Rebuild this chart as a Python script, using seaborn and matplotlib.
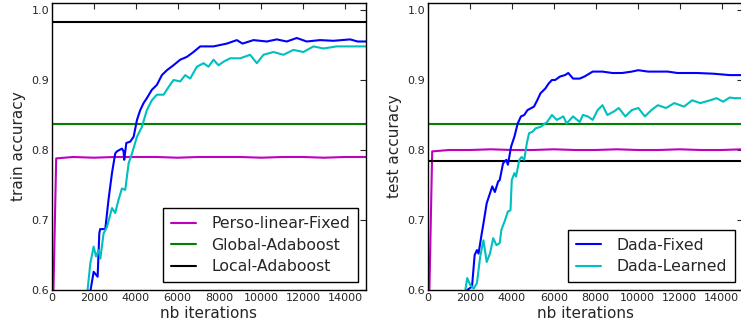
import pandas as pd
import matplotlib.pyplot as plt
import seaborn as sns

# ---- datos ----
iters_perso = [0, 200, 1000, 2000, 3000, 4000, 5000, 6000, 7000, 8000, 9000,
               10000, 11000, 12000, 13000, 14000, 15000]
perso_train = [0.50, 0.788, 0.790, 0.789, 0.790, 0.790, 0.790, 0.789, 0.790, 0.790,
               0.790, 0.789, 0.790, 0.790, 0.789, 0.790, 0.790]
perso_test = [0.50, 0.798, 0.800, 0.800, 0.801, 0.800, 0.800, 0.801, 0.800, 0.800,
              0.801, 0.800, 0.800, 0.801, 0.800, 0.800, 0.801]

global_train = 0.837
local_train = 0.983
global_test = 0.837
local_test = 0.785

iters_fixed_train = [1000, 1989, 2180, 2260, 2300, 2545, 2700, 2865, 3020, 3100, 3340,
                     3420, 3450, 3550, 3740, 3900, 4060, 4215, 4375, 4530, 4770, 5010,
                     5250, 5490, 5800, 6125, 6440, 6760, 7080, 7715, 8350, 8830, 9100,
                     9625, 10260, 10740, 11215, 11690, 12170, 12800, 13440, 14240, 14600,
                     15000]
fixed_train = [0.45, 0.626, 0.619, 0.681, 0.687, 0.687, 0.729, 0.767, 0.795, 0.798, 0.802,
               0.798, 0.786, 0.810, 0.812, 0.819, 0.843, 0.857, 0.867, 0.874, 0.886, 0.893,
               0.907, 0.914, 0.921, 0.929, 0.933, 0.940, 0.948, 0.948, 0.952, 0.957, 0.952,
               0.957, 0.955, 0.958, 0.955, 0.960, 0.955, 0.957, 0.956, 0.958, 0.955,
               0.955]

iters_learned_train = [1000, 1700, 1830, 1990, 2100, 2230, 2310, 2465, 2625, 2865, 3020,
                       3180, 3340, 3500, 3660, 3820, 4060, 4295, 4530, 4770, 5010, 5330,
                       5570, 5805, 6125, 6365, 6600, 6920, 7240, 7475, 7715, 7955, 8190,
                       8510, 8990, 9465, 9785, 10100, 10580, 11055, 11530, 12010, 12490,
                       12965, 13600, 14240, 15000]
learned_train = [0.45, 0.600, 0.638, 0.662, 0.648, 0.657, 0.645, 0.681, 0.690, 0.717, 0.710,
                 0.729, 0.745, 0.743, 0.781, 0.795, 0.819, 0.833, 0.857, 0.871, 0.879, 0.879,
                 0.890, 0.900, 0.898, 0.907, 0.902, 0.919, 0.924, 0.919, 0.929, 0.921, 0.926,
                 0.931, 0.931, 0.936, 0.924, 0.936, 0.940, 0.936, 0.943, 0.940, 0.948,
                 0.945, 0.948, 0.948, 0.948]

iters_fixed_test = [1000, 1870, 2100, 2225, 2335, 2410, 2565, 2645, 2800, 2955, 3065, 3190,
                    3345, 3420, 3580, 3735, 3810, 3965, 4120, 4280, 4435, 4590, 4745, 5055,
                    5210, 5365, 5600, 5755, 5910, 6065, 6300, 6535, 6690, 6920, 7235, 7465,
                    7855, 8320, 8790, 9255, 9720, 10030, 10500, 10965, 11430, 11900, 12365,
                    12830, 13610, 14390, 15000]
fixed_test = [0.45, 0.600, 0.605, 0.650, 0.657, 0.652, 0.681, 0.695, 0.724, 0.738, 0.748, 0.740,
              0.755, 0.757, 0.781, 0.786, 0.779, 0.805, 0.819, 0.838, 0.848, 0.850, 0.857, 0.862,
              0.871, 0.881, 0.888, 0.895, 0.900, 0.900, 0.905, 0.907, 0.910, 0.902, 0.902, 0.905,
              0.912, 0.912, 0.910, 0.910, 0.912, 0.914, 0.912, 0.912, 0.912, 0.910, 0.910,
              0.910, 0.909, 0.907, 0.907]

iters_learned_test = [1000, 1870, 2020, 2180, 2335, 2490, 2645, 2800, 2955, 3110, 3265, 3420,
                      3500, 3655, 3810, 3935, 3995, 4120, 4200, 4355, 4465, 4590, 4715, 4820,
                      4980, 5135, 5365, 5680, 5910, 6145, 6455, 6610, 6920, 7235, 7390, 7620,
                      7855, 8090, 8320, 8555, 8865, 9100, 9410, 9720, 10030, 10345, 10655,
                      10965, 11355, 11745, 12210, 12600, 12985, 13455, 13765, 14075, 14390,
                      14620, 15000]
learned_test = [0.45, 0.617, 0.607, 0.602, 0.610, 0.648, 0.671, 0.640, 0.652, 0.674, 0.664, 0.667,
                0.686, 0.698, 0.712, 0.714, 0.757, 0.767, 0.762, 0.786, 0.790, 0.786, 0.810, 0.824,
                0.826, 0.831, 0.833, 0.840, 0.850, 0.843, 0.848, 0.838, 0.848, 0.840, 0.850, 0.848,
                0.843, 0.857, 0.864, 0.850, 0.855, 0.860, 0.848, 0.857, 0.860, 0.848, 0.857,
                0.864, 0.860, 0.867, 0.862, 0.871, 0.867, 0.871, 0.874, 0.869, 0.875,
                0.874, 0.874]

# ---- estilo ----
sns.set_style('white')
plt.rcParams.update({
    'font.family': ['DejaVu Sans'],
    'xtick.direction': 'in', 'ytick.direction': 'in',
    'xtick.top': True, 'ytick.right': True,
    'xtick.major.size': 4, 'ytick.major.size': 4,
    'xtick.labelsize': 8, 'ytick.labelsize': 8,
    'axes.edgecolor': 'black', 'axes.linewidth': 1.0,
})

fig = plt.figure(figsize=(7.41, 3.32), dpi=100)
ax1 = fig.add_axes([52 / 741, 42 / 332, 314 / 741, 287 / 332])
# el panel derecho queda recortado por el borde de la imagen, como en el original
ax2 = fig.add_axes([428 / 741, 42 / 332, 314.5 / 741, 287 / 332])

lw = 1.5

# Panel izquierdo: train
sns.lineplot(x=iters_perso, y=perso_train, ax=ax1, color='m', lw=lw, label='Perso-linear-Fixed')
ax1.axhline(global_train, color='g', lw=lw, label='Global-Adaboost')
ax1.axhline(local_train, color='k', lw=lw, label='Local-Adaboost')
sns.lineplot(x=iters_fixed_train, y=fixed_train, ax=ax1, color='b', lw=lw)
sns.lineplot(x=iters_learned_train, y=learned_train, ax=ax1, color='c', lw=lw)

# Panel derecho: test
sns.lineplot(x=iters_perso, y=perso_test, ax=ax2, color='m', lw=lw)
ax2.axhline(global_test, color='g', lw=lw)
ax2.axhline(local_test, color='k', lw=lw)
sns.lineplot(x=iters_fixed_test, y=fixed_test, ax=ax2, color='b', lw=lw, label='Dada-Fixed')
sns.lineplot(x=iters_learned_test, y=learned_test, ax=ax2, color='c', lw=lw, label='Dada-Learned')

for ax, ylab in [(ax1, 'train accuracy'), (ax2, 'test accuracy')]:
    ax.set_xlim(0, 15000)
    ax.set_ylim(0.6, 1.01)
    ax.set_xticks(range(0, 15000, 2000))
    ax.set_yticks([0.6, 0.7, 0.8, 0.9, 1.0])
    ax.set_xlabel('nb iterations', fontsize=11, labelpad=2)
    ax.set_ylabel(ylab, fontsize=11, labelpad=4)
    ax.tick_params(pad=2)
    leg = ax.legend(loc='lower right', fontsize=11.3, fancybox=False, framealpha=1,
                    edgecolor='black', borderpad=0.5, labelspacing=0.42,
                    handlelength=1.6, handletextpad=1.0)
    leg.get_frame().set_linewidth(1.0)

fig.savefig('out.png', dpi=100)
